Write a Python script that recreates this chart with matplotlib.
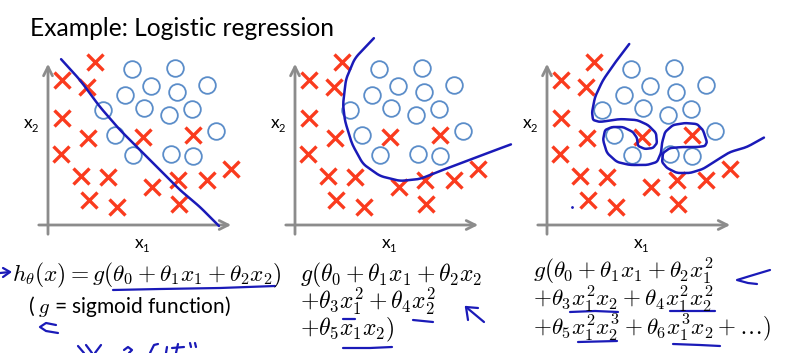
import matplotlib
matplotlib.use("Agg")
import matplotlib.pyplot as plt
import numpy as np

plt.rcParams['mathtext.fontset'] = 'cm'

# data points (same in every panel), x1 / x2 in panel units
cross_x1 = [47, 14, 39, 14, 40, 95, 145, 13, 33, 60, 104, 130, 159, 183, 41, 69, 131]
cross_x2 = [163, 145, 138, 107, 87, 88, 90, 71, 49, 48, 38, 45, 45, 56, 25, 18, 21]
circle_x1 = [84, 127, 103, 129, 159, 77, 55, 96, 121, 144, 168, 67, 85, 123, 145]
circle_x2 = [156, 157, 139, 133, 140, 130, 115, 117, 110, 116, 94, 90, 70, 71, 69]

# decision boundaries
line1_x1 = [12, 32, 52, 72, 92, 112, 132, 152, 172]
line1_x2 = [167, 145, 118, 95, 75, 55, 35, 18, -2]

curve2_x1 = [80, 60, 51, 48, 50, 57, 68, 85, 105, 125, 145, 172, 198, 217]
curve2_x2 = [188, 167, 146, 121, 104, 81, 61, 49, 44, 46, 54, 64, 74, 81]

curve3_x1 = [83, 70, 56, 48, 45, 46, 53, 73, 90, 101, 109, 110, 106, 98, 91, 90, 86,
             76, 65, 58, 56, 60, 70, 83, 100, 110, 114, 115, 118, 126, 138, 150, 156,
             160, 158, 151, 136, 123, 116, 115, 120, 130, 143, 156, 170, 183, 200, 218]
curve3_x2 = [182, 165, 145, 128, 113, 105, 103, 106, 105, 100, 92, 82, 77, 76, 79, 87, 93,
             98, 98, 95, 85, 72, 63, 60, 60, 63, 72, 82, 93, 100, 102, 101, 95,
             83, 79, 78, 78, 77, 72, 63, 57, 52, 52, 56, 65, 73, 78, 88]

title = "Example: Logistic regression"
panel_origins = [48, 295, 547]

red = '#FA3B1E'
circ = '#5B8DC9'
ink = '#1A1AB8'
gray = '#8C8C8C'

fig = plt.figure(figsize=(8.08, 3.53), dpi=100)
fig.patch.set_facecolor('white')

# overlay in pixel coordinates for text and hand annotations
ov = fig.add_axes([0, 0, 1, 1])
ov.set_xlim(0, 808)
ov.set_ylim(353, 0)
ov.axis('off')


def smooth_plot(ax, xs, ys, **kw):
    # soften the corners of a hand-drawn polyline
    xs = np.asarray(xs, float)
    ys = np.asarray(ys, float)
    t = np.arange(len(xs))
    tt = np.linspace(0, len(xs) - 1, len(xs) * 10)
    xi = np.interp(tt, t, xs)
    yi = np.interp(tt, t, ys)
    k = 5
    w = np.ones(k) / k
    xi = np.convolve(np.pad(xi, k // 2, mode='edge'), w, mode='valid')
    yi = np.convolve(np.pad(yi, k // 2, mode='edge'), w, mode='valid')
    ax.plot(xi, yi, solid_capstyle='round', **kw)


curves = [
    (line1_x1, line1_x2),
    (curve2_x1, curve2_x2),
    (curve3_x1, curve3_x2),
]

for i, ox in enumerate(panel_origins):
    oy = 225
    ax = fig.add_axes([(ox - 30) / 808, (353 - oy - 30) / 353, 280 / 808, 240 / 353])
    ax.set_xlim(-30, 250)
    ax.set_ylim(-30, 210)
    ax.axis('off')
    ax.patch.set_visible(False)

    ax.annotate('', xy=(186, 0), xytext=(-12, 0),
                arrowprops=dict(arrowstyle='->', color=gray, lw=2, mutation_scale=16))
    ax.annotate('', xy=(0, 164), xytext=(0, -12),
                arrowprops=dict(arrowstyle='->', color=gray, lw=2, mutation_scale=16))

    ax.plot(cross_x1, cross_x2, 'x', color=red, ms=11, mew=2.4, zorder=3)
    ax.plot(circle_x1, circle_x2, 'o', mfc='white', mec=circ, ms=12, mew=1.3, zorder=3)

    cx, cy = curves[i]
    smooth_plot(ax, cx, cy, color=ink, lw=1.8, zorder=4)

    ax.text(-20, 102, 'x', fontsize=12.5, family='Lato', ha='center', va='center')
    ax.text(-13.5, 97, '2', fontsize=8, family='Lato', ha='center', va='center')
    ax.text(91, -18, 'x', fontsize=12.5, family='Lato', ha='center', va='center')
    ax.text(97.5, -23, '1', fontsize=8, family='Lato', ha='center', va='center')

# tiny stray dot in the third panel
ov.plot([572], [207], '.', color=ink, ms=2)

ov.text(30, 36, title, fontsize=17.7, family='Lato', va='baseline')

# formulas
fs = 17
fs3 = 16.7
ov.text(12, 281, r'$h_\theta(x) = g(\theta_0+\theta_1 x_1+\theta_2 x_2)$', fontsize=16.8, va='baseline')
ov.text(28, 313, r'( $g$ = sigmoid function)', fontsize=15, family='Lato', va='baseline')

ov.text(300, 281, r'$g(\theta_0+\theta_1 x_1+\theta_2 x_2$', fontsize=fs, va='baseline')
ov.text(300, 309, r'$+\theta_3 x_1^2+\theta_4 x_2^2$', fontsize=fs, va='baseline')
ov.text(300, 335, r'$+\theta_5 x_1 x_2)$', fontsize=fs, va='baseline')

ov.text(533, 278, r'$g(\theta_0+\theta_1 x_1+\theta_2 x_1^2$', fontsize=fs3, va='baseline')
ov.text(533, 306, r'$+\theta_3 x_1^2 x_2+\theta_4 x_1^2 x_2^2$', fontsize=fs3, va='baseline')
ov.text(533, 334, r'$+\theta_5 x_1^2 x_2^3+\theta_6 x_1^3 x_2+\ldots)$', fontsize=fs3, va='baseline')

# hand-drawn annotations (pixel coords)
strokes = [
    [(113, 290), (160, 289), (220, 288), (275, 286)],
    [(0, 273), (10, 272)], [(3, 268), (10, 272), (3, 277)],
    [(56, 325), (46, 323), (40, 327), (46, 331), (58, 333)],
    [(78, 346), (84, 353)], [(86, 345), (92, 353)], [(95, 353), (101, 345)],
    [(124, 350), (128, 347), (132, 350), (129, 353)],
    [(150, 353), (154, 345), (158, 344)], [(166, 353), (167, 347)], [(176, 353), (178, 344)],
    [(172, 348), (184, 347)], [(190, 343), (191, 347)], [(195, 343), (196, 347)],
    [(343, 319), (355, 319)], [(413, 320), (423, 321), (433, 322)],
    [(343, 348), (370, 348), (392, 347)],
    [(466, 307), (484, 322)], [(466, 307), (468, 320)], [(466, 307), (478, 308)],
    [(570, 312), (595, 311), (618, 312)], [(670, 311), (715, 311)],
    [(578, 342), (617, 341)], [(673, 344), (700, 345), (720, 346)],
    [(770, 270), (750, 276), (737, 280), (748, 283), (757, 284)],
]
for s in strokes:
    xs, ys = zip(*s)
    ov.plot(xs, ys, color=ink, lw=1.6, solid_capstyle='round')

fig.savefig('out.png', dpi=100)
